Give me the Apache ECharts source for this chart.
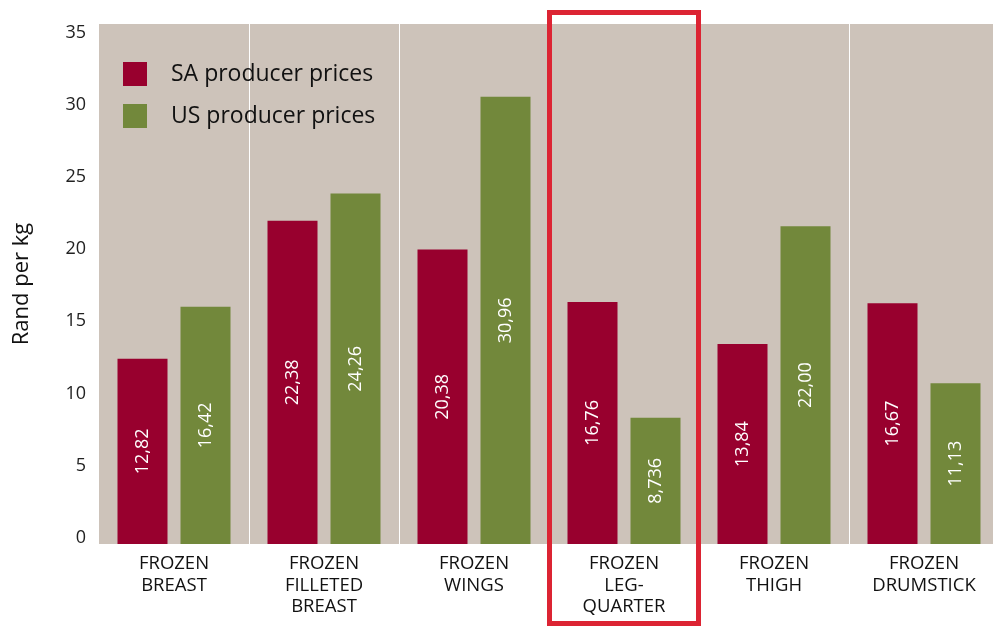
<!DOCTYPE html>
<html>
<head>
<meta charset="utf-8">
<script src="https://cdn.jsdelivr.net/npm/echarts@6/dist/echarts.min.js"></script>
<style>
  html, body { margin: 0; padding: 0; background: #ffffff; }
  #chart { width: 993px; height: 627px; }
</style>
</head>
<body>
<div id="chart"></div>
<script>
// Producer prices of frozen chicken cuts, Rand per kg
const categories = [
  'FROZEN\nBREAST',
  'FROZEN\nFILLETED\nBREAST',
  'FROZEN\nWINGS',
  'FROZEN\nLEG-\nQUARTER',
  'FROZEN\nTHIGH',
  'FROZEN\nDRUMSTICK'
];
const saPrices = [12.82, 22.38, 20.38, 16.76, 13.84, 16.67];
const usPrices = [16.42, 24.26, 30.96, 8.736, 22.00, 11.13];
const yTicks = [0, 5, 10, 15, 20, 25, 30, 35];
const highlightIndex = 3; // leg-quarter column is boxed

const FONT = '"Open Sans", Lato, sans-serif';

// Decimal comma, at least two decimals
function fmt(v) {
  let s = String(v);
  if (s.indexOf('.') < 0) s += '.00';
  else if (s.split('.')[1].length < 2) s += '0';
  return s.replace('.', ',');
}

const chart = echarts.init(document.getElementById('chart'), null, { renderer: 'canvas' });

// The plot runs a few pixels past the right edge of the canvas
const gridLeft = 99, gridTop = 24, gridWidth = 900, gridBottom = 83;
const catW = gridWidth / categories.length;

const barLabel = {
  show: true,
  position: 'inside',
  rotate: 90,
  color: '#ffffff',
  fontFamily: FONT,
  fontSize: 18,
  formatter: p => fmt(p.value)
};

chart.setOption({
  animation: false,
  textStyle: { fontFamily: FONT },
  grid: {
    left: gridLeft, top: gridTop, width: gridWidth, bottom: gridBottom,
    outerBoundsMode: 'none', containLabel: false,
    show: true, backgroundColor: '#cdc3ba', borderWidth: 0
  },
  legend: {
    orient: 'vertical',
    left: 123, top: 62, padding: 0,
    itemWidth: 24, itemHeight: 24, itemGap: 18,
    icon: 'rect',
    textStyle: { fontFamily: FONT, fontSize: 23, color: '#111111', padding: [0, 0, 0, 19] },
    data: ['SA producer prices', 'US producer prices']
  },
  xAxis: {
    type: 'category',
    data: categories,
    axisLine: { show: false },
    axisTick: { show: false },
    splitLine: { show: true, showMinLine: false, showMaxLine: false, lineStyle: { color: '#ffffff', width: 1 } },
    axisLabel: {
      color: '#111111', fontFamily: FONT, fontSize: 18.5, lineHeight: 21.5, margin: 9, interval: 0
    }
  },
  yAxis: {
    type: 'value',
    min: 0, max: 36, interval: 5,
    name: 'Rand per kg',
    nameLocation: 'middle',
    nameGap: 66,
    nameTextStyle: { fontFamily: FONT, fontSize: 22, color: '#111111' },
    splitLine: { show: false },
    axisLine: { show: false },
    axisTick: { show: false },
    axisLabel: {
      showMaxLabel: false,
      margin: 13,
      color: '#222222', fontFamily: FONT, fontSize: 18,
      verticalAlign: 'bottom', lineHeight: 12,
      formatter: v => (yTicks.indexOf(v) >= 0 ? String(v) : '')
    }
  },
  series: [
    {
      name: 'SA producer prices', type: 'bar', data: saPrices,
      barWidth: 50, barGap: '26%',
      itemStyle: { color: '#98002e' },
      label: barLabel
    },
    {
      name: 'US producer prices', type: 'bar', data: usPrices,
      barWidth: 50,
      itemStyle: { color: '#72883b' },
      label: barLabel
    }
  ],
  graphic: [
    {
      type: 'rect', z: 100,
      shape: { x: gridLeft + catW * highlightIndex + 0.5, y: 12.5, width: catW - 1, height: 611 },
      style: { fill: 'none', stroke: '#dc2433', lineWidth: 5 }
    }
  ]
});
</script>
</body>
</html>
